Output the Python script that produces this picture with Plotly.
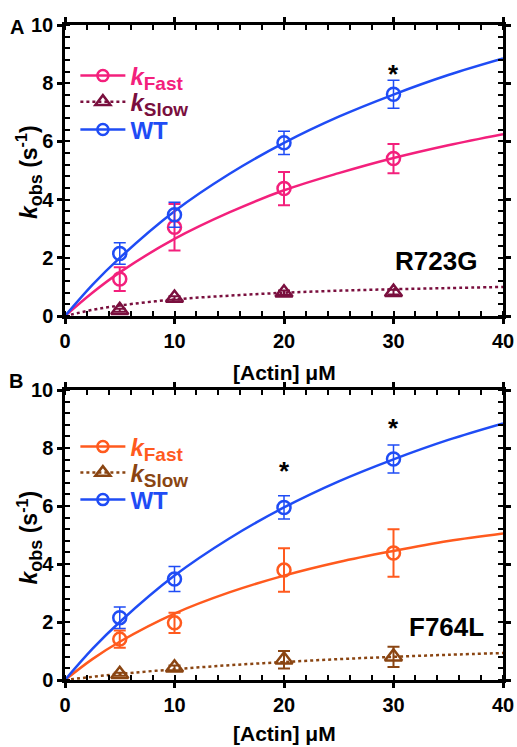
import plotly.graph_objects as go

# ---------------- data ----------------
actin = [5, 10, 20, 30]
fit_x = [0, 2.5, 5, 10, 15, 20, 25, 30, 35, 40]

wt_k = [2.15, 3.48, 5.95, 7.62]
wt_err = [0.37, 0.43, 0.40, 0.48]
wt_fit = [0, 1.07, 2.0, 3.6, 4.88, 5.95, 6.85, 7.61, 8.28, 8.85]

a_fast_k = [1.27, 3.05, 4.38, 5.41]
a_fast_err = [0.41, 0.80, 0.57, 0.50]
a_fast_fit = [0, 0.80, 1.5, 2.65, 3.56, 4.32, 4.91, 5.43, 5.87, 6.25]
a_slow_k = [0.20, 0.62, 0.80, 0.82]
a_slow_err = [0.05, 0.06, 0.08, 0.08]
a_slow_fit = [0, 0.21, 0.36, 0.57, 0.70, 0.80, 0.87, 0.92, 0.96, 1.0]

b_fast_k = [1.41, 1.97, 3.79, 4.38]
b_fast_err = [0.30, 0.35, 0.75, 0.82]
b_fast_fit = [0, 0.72, 1.32, 2.29, 3.02, 3.60, 4.07, 4.45, 4.79, 5.05]
b_slow_k = [0.20, 0.42, 0.70, 0.80]
b_slow_err = [0.05, 0.08, 0.30, 0.35]
b_slow_fit = [0, 0.11, 0.21, 0.37, 0.51, 0.62, 0.72, 0.80, 0.87, 0.93]

mutants = ["R723G", "F764L"]
panel_labels = ["A", "B"]
x_ticks = [0, 10, 20, 30, 40]
y_ticks = [0, 2, 4, 6, 8, 10]

# ---------------- style ----------------
FONT = "Liberation Sans, Arial, sans-serif"
BLUE = "#1f4cf5"
PINK = "#f3207c"
MAROON = "#7a0f3e"
ORANGE = "#ff5a1e"
BROWN = "#8a4512"

fig = go.Figure()


def add_panel(xa, ya, fast_k, fast_err, fast_fit, slow_k, slow_err, slow_fit,
              cfast, cslow, legends):
    fig.add_trace(go.Scatter(x=fit_x, y=slow_fit, mode="lines", line=dict(color=cslow, width=2.5, dash="dot", shape="spline"),
                             xaxis=xa, yaxis=ya, showlegend=False, hoverinfo="skip"))
    fig.add_trace(go.Scatter(x=fit_x, y=fast_fit, mode="lines", line=dict(color=cfast, width=2.5, shape="spline"),
                             xaxis=xa, yaxis=ya, showlegend=False, hoverinfo="skip"))
    fig.add_trace(go.Scatter(x=fit_x, y=wt_fit, mode="lines", line=dict(color=BLUE, width=2.5, shape="spline"),
                             xaxis=xa, yaxis=ya, showlegend=False, hoverinfo="skip"))
    fig.add_trace(go.Scatter(x=actin, y=slow_k, mode="markers",
                             marker=dict(symbol="triangle-up-open", size=15, color=cslow, line=dict(width=2.5)),
                             error_y=dict(type="data", array=slow_err, color=cslow, thickness=2, width=6),
                             xaxis=xa, yaxis=ya, showlegend=False))
    fig.add_trace(go.Scatter(x=actin, y=fast_k, mode="markers",
                             marker=dict(symbol="circle-open", size=13, color=cfast, line=dict(width=2.5)),
                             error_y=dict(type="data", array=fast_err, color=cfast, thickness=2, width=6),
                             xaxis=xa, yaxis=ya, showlegend=False))
    fig.add_trace(go.Scatter(x=actin, y=wt_k, mode="markers",
                             marker=dict(symbol="circle-open", size=13, color=BLUE, line=dict(width=2.5)),
                             error_y=dict(type="data", array=wt_err, color=BLUE, thickness=1.5, width=6),
                             xaxis=xa, yaxis=ya, showlegend=False))
    entries = [
        (f'<span style="color:{cfast}"><b><i>k</i><sub><span style="font-size:19px">Fast</span></sub></b></span>',
         cfast, "solid", "circle-open", 11),
        (f'<span style="color:{cslow}"><b><i>k</i><sub><span style="font-size:19px">Slow</span></sub></b></span>',
         cslow, "dot", "triangle-up-open", 13),
        (f'<span style="color:{BLUE}"><b>WT</b></span>', BLUE, "solid", "circle-open", 11),
    ]
    for (name, c, dash, sym, sz), lg in zip(entries, legends):
        fig.add_trace(go.Scatter(x=[None], y=[None], mode="lines+markers", name=name,
                                 line=dict(color=c, width=2.5, dash=dash),
                                 marker=dict(symbol=sym, size=sz, color=c, line=dict(width=2.5)),
                                 xaxis=xa, yaxis=ya, legend=lg, showlegend=True))


add_panel("x", "y", a_fast_k, a_fast_err, a_fast_fit, a_slow_k, a_slow_err, a_slow_fit, PINK, MAROON,
          ["legend", "legend2", "legend3"])
add_panel("x2", "y2", b_fast_k, b_fast_err, b_fast_fit, b_slow_k, b_slow_err, b_slow_fit, ORANGE, BROWN,
          ["legend4", "legend5", "legend6"])

axis_common = dict(
    showline=True, linewidth=2.5, linecolor="black", mirror="allticks",
    ticks="outside", ticklen=5, tickwidth=2.5, tickcolor="black",
    showgrid=False, zeroline=False, automargin=False,
    tickfont=dict(family=FONT, size=20, color="black", weight="bold"),
)

xaxis_common = dict(axis_common, range=[0, 40], tickvals=x_ticks,
                    minor=dict(dtick=2, ticks="inside", ticklen=5, tickwidth=2, tickcolor="black"))
yaxis_common = dict(axis_common, range=[0, 10], tickvals=y_ticks,
                    minor=dict(dtick=0.4, ticks="inside", ticklen=5, tickwidth=2, tickcolor="black"))

legend_common = dict(bgcolor="rgba(0,0,0,0)", font=dict(family=FONT, size=24), tracegroupgap=0,
                     itemwidth=45, xanchor="left", yanchor="middle", x=0.0237)

legend_rows = [0.9221, 0.8824, 0.8397, 0.3557, 0.3160, 0.2748]
legend_layout = {}
for i, yv in enumerate(legend_rows):
    key = "legend" if i == 0 else f"legend{i + 1}"
    legend_layout[key] = dict(legend_common, y=yv)

fig.update_layout(
    width=517, height=747,
    margin=dict(l=65, r=14, t=25, b=67, autoexpand=False),
    paper_bgcolor="white", plot_bgcolor="white",
    xaxis=dict(xaxis_common, anchor="y", domain=[0, 1]),
    yaxis=dict(yaxis_common, anchor="x", domain=[0.5557, 1]),
    xaxis2=dict(xaxis_common, anchor="y2", domain=[0, 1]),
    yaxis2=dict(yaxis_common, anchor="x2", domain=[0, 0.4427]),
    showlegend=True,
    **legend_layout,
)

ytitle = '<b><i>k</i><sub><span style="font-size:18px">obs</span></sub> (s<sup>-1</sup>)</b>'
xtitle = "<b>[Actin] μM</b>"
ann = []
for (lx, ly), xt_y, (yt_x, yt_y), lab in zip([(-0.109, 0.9969), (-0.112, 0.4565)], [0.470, -0.081],
                                          [(-0.082, 0.7756), (-0.082, 0.2177)], panel_labels):
    ann.append(dict(text=f"<b>{lab}</b>", x=lx, y=ly, xref="paper", yref="paper", showarrow=False,
                    xanchor="center", yanchor="middle",
                    font=dict(family=FONT, size=20, color="black")))
    ann.append(dict(text=xtitle, x=0.502, y=xt_y, xref="paper", yref="paper", showarrow=False,
                    xanchor="center", yanchor="middle",
                    font=dict(family=FONT, size=21, color="black")))
    ann.append(dict(text=ytitle, x=yt_x, y=yt_y, xref="paper", yref="paper", showarrow=False, textangle=-90,
                    xanchor="center", yanchor="middle",
                    font=dict(family=FONT, size=23, color="black")))

ann.append(dict(text=f"<b>{mutants[0]}</b>", x=33.9, y=1.88, xref="x", yref="y", showarrow=False,
                xanchor="center", yanchor="middle", font=dict(family=FONT, size=26, color="black")))
ann.append(dict(text=f"<b>{mutants[1]}</b>", x=34.8, y=1.83, xref="x2", yref="y2", showarrow=False,
                xanchor="center", yanchor="middle", font=dict(family=FONT, size=26, color="black")))

for xr, yr, xv, yv in [("x", "y", 30, 8.3), ("x2", "y2", 20, 7.2), ("x2", "y2", 30, 8.7)]:
    ann.append(dict(text="<b>*</b>", x=xv, y=yv, xref=xr, yref=yr, showarrow=False,
                    xanchor="center", yanchor="middle",
                    font=dict(family=FONT, size=26, color="black")))

fig.update_layout(annotations=ann)

fig.write_html("out.html", config={"displayModeBar": False},
               post_script="document.body.style.margin='0px';")
